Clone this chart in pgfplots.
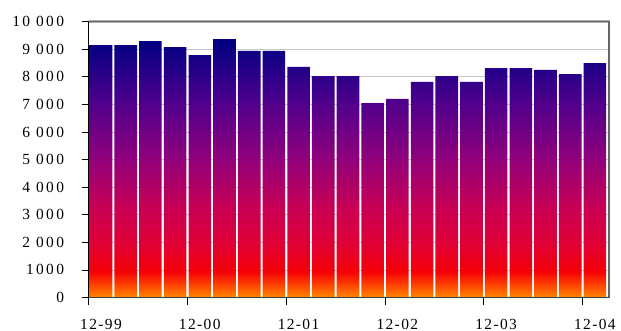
\documentclass[border=0pt]{standalone}
\usepackage{pgfplots}
\pgfplotsset{compat=1.18}
\usepackage{fontspec}
\setmainfont{Liberation Serif}
\newfontfamily\yfont{Liberation Serif}[LetterSpace=15]
\newfontfamily\xfont{Liberation Serif}[LetterSpace=9]
\newcommand\yl[1]{\hbox{\yfont\fontsize{15.5}{18}\selectfont #1\kern17.5bp}}
\newcommand\xl[1]{\hbox{\xfont\fontsize{15.5}{18}\selectfont #1}}
\definecolor{s0}{RGB}{255,135,0}
\definecolor{s1}{RGB}{255,80,0}
\definecolor{s2}{RGB}{245,0,5}
\definecolor{s3}{RGB}{225,0,50}
\definecolor{s4}{RGB}{200,0,85}
\definecolor{s5}{RGB}{140,0,125}
\definecolor{s6}{RGB}{80,0,140}
\definecolor{s7}{RGB}{30,0,135}
\definecolor{s8}{RGB}{0,0,128}
\pgfdeclareverticalshading{fire}{100bp}{color(0bp)=(s0); color(25bp)=(s0); color(27bp)=(s1); color(30bp)=(s2); color(35bp)=(s3); color(42.5bp)=(s4); color(52.5bp)=(s5); color(62.5bp)=(s6); color(70bp)=(s7); color(75bp)=(s8); color(100bp)=(s8)}
\begin{document}
\begin{tikzpicture}
\path[use as bounding box] (-88.7bp,-33.5bp) rectangle (532.3bp,297.5bp);
\begin{axis}[
 at={(0,0)}, anchor=south west, scale only axis,
 width=520.3bp, height=275.8bp,
 xmin=0, xmax=21.07, ymin=0, ymax=10000,
 axis x line*=bottom, axis y line*=left,
 axis line style={draw=none,-},
 scaled y ticks=false,
 ytick={0,1000,...,10000},
 yticklabels={\yl{0},\yl{1000},\yl{2 000},\yl{3 000},\yl{4 000},\yl{5 000},\yl{6 000},\yl{7 000},\yl{8 000},\yl{9 000},\yl{10 000}},
 xtick={0,4,...,20},
 xticklabels={\xl{12-99},\xl{12-00},\xl{12-01},\xl{12-02},\xl{12-03},\xl{12-04}},
 tick align=outside, major tick length=7bp,
 tick style={black, line width=0.8bp},
 ymajorgrids, grid style={draw=black!22, line width=0.8bp},
 yticklabel style={anchor=east, inner sep=0pt},
 xticklabel style={anchor=base, inner sep=0pt, xshift=12.3bp, yshift=-24.8bp},
 clip=false,
]
\addplot[ybar, bar width=22.6bp, draw=none, shade, shading=fire] coordinates {
(0.5,9150) (1.5,9150) (2.5,9300) (3.5,9080) (4.5,8790) (5.5,9370) (6.5,8940)
(7.5,8940) (8.5,8360) (9.5,8030) (10.5,8030) (11.5,7050) (12.5,7200) (13.5,7820)
(14.5,8030) (15.5,7820) (16.5,8320) (17.5,8320) (18.5,8250) (19.5,8100) (20.5,8500)};
\draw[black!30, line width=2.6bp] (rel axis cs:0,1) -- (rel axis cs:1,1) -- (rel axis cs:1,0);
\draw[black!60, line width=1.2bp] (rel axis cs:0,1) -- (rel axis cs:1,1) -- (rel axis cs:1,0);
\draw[black!75, line width=1.8bp] (rel axis cs:0,0) -- (rel axis cs:1,0);
\draw[black, line width=1bp] (rel axis cs:0,0) -- (rel axis cs:0,1);
\end{axis}
\end{tikzpicture}
\end{document}
